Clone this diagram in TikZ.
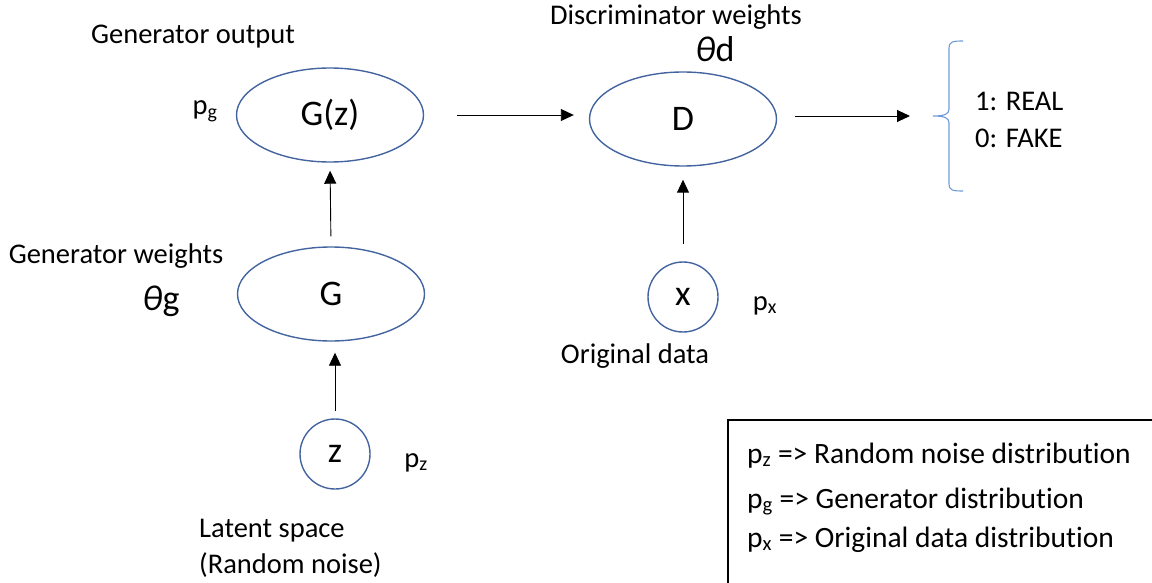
\documentclass[tikz,border=0pt]{standalone}
\usepackage{fontspec}
\setmainfont{Carlito}[Ligatures={TeX,NoCommon}]
\usetikzlibrary{shapes.geometric, arrows.meta}

\definecolor{nodeblue}{RGB}{68,100,160}
\definecolor{braceblue}{RGB}{110,155,215}

\begin{document}
\begin{tikzpicture}[x=1pt, y=-1pt,
	net/.style={ellipse, draw=nodeblue, line width=1.4pt, minimum width=187pt, minimum height=94pt, inner sep=0pt, font=\fontsize{36}{40}\selectfont},
	var/.style={circle, draw=nodeblue, line width=1.4pt, minimum size=70pt, inner sep=0pt, font=\fontsize{36}{40}\selectfont},
	lbl/.style={anchor=base, inner sep=0pt, font=\fontsize{28.5}{34}\selectfont},
	wgt/.style={anchor=base, inner sep=0pt, font=\fontsize{36}{40}\selectfont},
	conn/.style={-{Triangle[length=13pt, width=12pt]}, line width=0.9pt}]
			\useasboundingbox (0,0) rectangle (1152,583);

			% Networks and variables
			\node[net] (Gz) at (330,115) {G(z)};
			\node[net] (D) at (683,119) {D};
			\node[net] (G) at (331,294) {G};
			\node[var] (z) at (335,454) {z};
			\node[var] (x) at (683,297) {x};

			% Labels
			\node[lbl] (genout) at (193,44) {Generator output};
			\node[lbl] (pg) at (205,115) {p\textsubscript{g}};
			\node[lbl] (genw) at (116,263) {Generator weights};
			\node[wgt] (thg) at (161,310) {{\itshape θ}g};
			\node[lbl] (pz) at (416,467) {p\textsubscript{z}};
			\node[lbl, anchor=base west] (latent) at (199,537) {Latent space};
			\node[lbl, anchor=base west] (noise) at (199,573) {(Random noise)};
			\node[lbl] (discw) at (676,25) {Discriminator weights};
			\node[wgt] (thd) at (715,62) {{\itshape θ}d};
			\node[lbl] (px) at (765,310) {p\textsubscript{x}};
			\node[lbl] (orig) at (635,363) {Original data};

			% Output brace
			\draw[braceblue, line width=1.1pt] (963,41) .. controls (952,41) and (949,42) .. (949,48) -- (949,109)
				.. controls (949,114) and (945,116) .. (933,116) .. controls (945,116) and (949,118) .. (949,123)
				-- (949,184) .. controls (949,190) and (952,191) .. (963,191);
			\coordinate (brace) at (933,116);
			\node[lbl, anchor=base west] (real) at (975,111) {1: REAL};
			\node[lbl, anchor=base west] (fake) at (975,148) {0: FAKE};

			% Draw mappings
			\draw[conn, shorten <=7pt, shorten >=11pt] (z.north) -- (z.north |- G.south);
			\draw[conn, shorten <=10pt, shorten >=8pt] (G.north) -- (Gz.south);
			\draw[conn, shorten <=33pt, shorten >=15pt] (Gz.east) -- (Gz.east -| D.west);
			\draw[conn, shorten <=17pt, shorten >=13pt] (x.north) -- (D.south);
			\draw[conn, shorten <=18pt, shorten >=23pt] (D.east |- brace) -- (brace);

			% Legend
			\draw[line width=1.2pt] (728,583) -- (728,420) -- (1152,420);
			\node[lbl, anchor=base west, font=\fontsize{29.5}{34}\selectfont] (leg1) at (747,463) {p\textsubscript{z} => Random noise distribution};
			\node[lbl, anchor=base west, font=\fontsize{29.5}{34}\selectfont] (leg2) at (747,508) {p\textsubscript{g} => Generator distribution};
			\node[lbl, anchor=base west, font=\fontsize{29.5}{34}\selectfont] (leg3) at (747,547) {p\textsubscript{x} => Original data distribution};
		\end{tikzpicture}
\end{document}
